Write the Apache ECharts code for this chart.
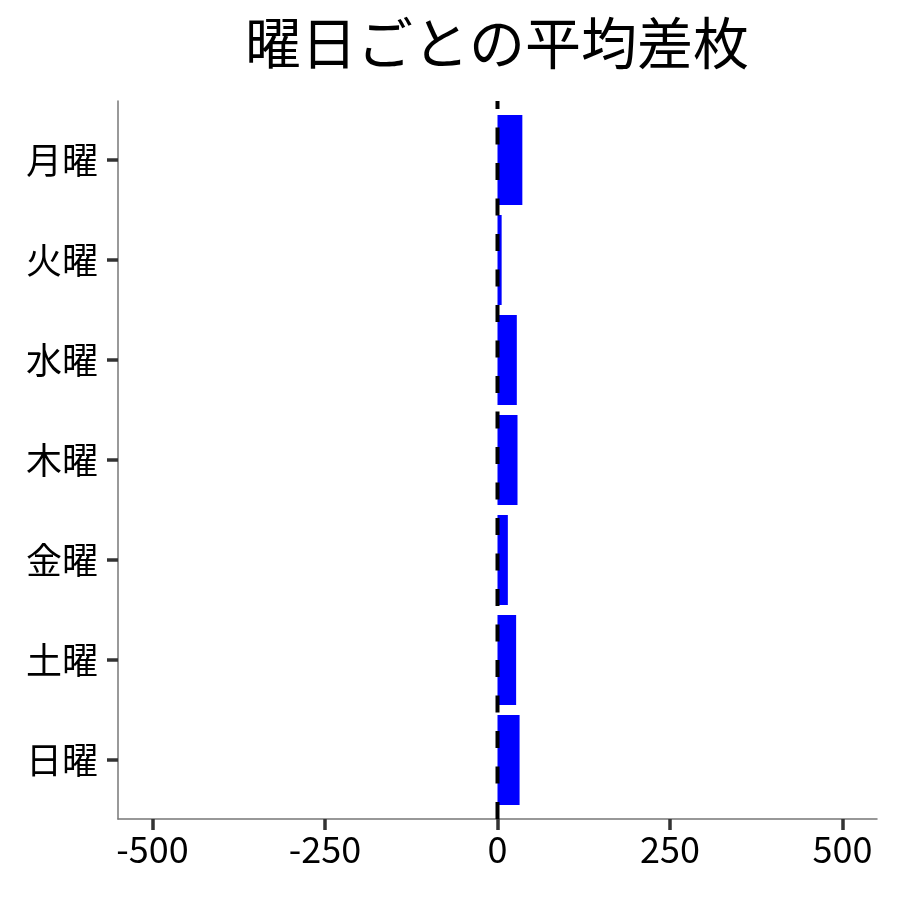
<!DOCTYPE html>
<html>
<head>
<meta charset="utf-8">
<script src="https://cdn.jsdelivr.net/npm/echarts@6/dist/echarts.min.js"></script>
<style>
html,body{margin:0;padding:0;background:#fff;}
#chart{width:900px;height:900px;}
</style>
</head>
<body>
<div id="chart"></div>
<script>
const titleText = '曜日ごとの平均差枚';
const days = ['月曜', '火曜', '水曜', '木曜', '金曜', '土曜', '日曜'];
const avgDiff = [36, 6, 28, 29, 15, 27, 32];
const xTicks = [-500, -250, 0, 250, 500];
const xMin = -550, xMax = 550;
const refLineX = 0;

const FONT = '"Noto Sans CJK JP", "Noto Sans", sans-serif';
const chart = echarts.init(document.getElementById('chart'), null, {renderer: 'canvas'});
chart.setOption({
  animation: false,
  backgroundColor: '#ffffff',
  title: {
    text: titleText,
    left: 492, top: 10, textAlign: 'center',
    textStyle: {fontFamily: FONT, fontSize: 56, fontWeight: 'normal', color: '#000'}
  },
  grid: [
    {left: 118, top: 101, width: 759, height: 718, containLabel: false},
    {left: 118, top: 110, width: 759, height: 700, containLabel: false}
  ],
  xAxis: [
    {
      type: 'value', gridIndex: 0, min: xMin, max: xMax,
      axisLine: {show: true, onZero: false, lineStyle: {color: '#777', width: 1.5}},
      axisTick: {show: true, customValues: xTicks, length: 11, lineStyle: {color: '#333', width: 3.5}},
      axisLabel: {show: true, customValues: xTicks, fontFamily: FONT, fontSize: 36, color: '#000', margin: 12},
      splitLine: {show: false}
    },
    {
      type: 'value', gridIndex: 1, min: xMin, max: xMax, show: false,
      axisLine: {onZero: false},
      splitLine: {show: false}
    }
  ],
  yAxis: [
    {
      type: 'value', gridIndex: 0, min: 0, max: 1,
      axisLine: {show: true, onZero: false, lineStyle: {color: '#777', width: 1.5}},
      axisTick: {show: false}, axisLabel: {show: false}, splitLine: {show: false}
    },
    {
      type: 'category', gridIndex: 1, data: days, inverse: true,
      axisLine: {show: false, onZero: false},
      axisTick: {show: true, alignWithLabel: true, length: 11, lineStyle: {color: '#333', width: 3.5}},
      axisLabel: {fontFamily: FONT, fontSize: 36, color: '#000', margin: 20},
      splitLine: {show: false}
    }
  ],
  series: [
    {
      type: 'bar', xAxisIndex: 1, yAxisIndex: 1, data: avgDiff,
      barWidth: 90, itemStyle: {color: '#0000ff'}, z: 2
    },
    {
      type: 'line', xAxisIndex: 0, yAxisIndex: 0,
      data: [[refLineX, 0], [refLineX, 1]],
      symbol: 'none', z: 5,
      lineStyle: {color: '#000', width: 4, type: [17, 18.5]}
    }
  ]
});
</script>
</body>
</html>
